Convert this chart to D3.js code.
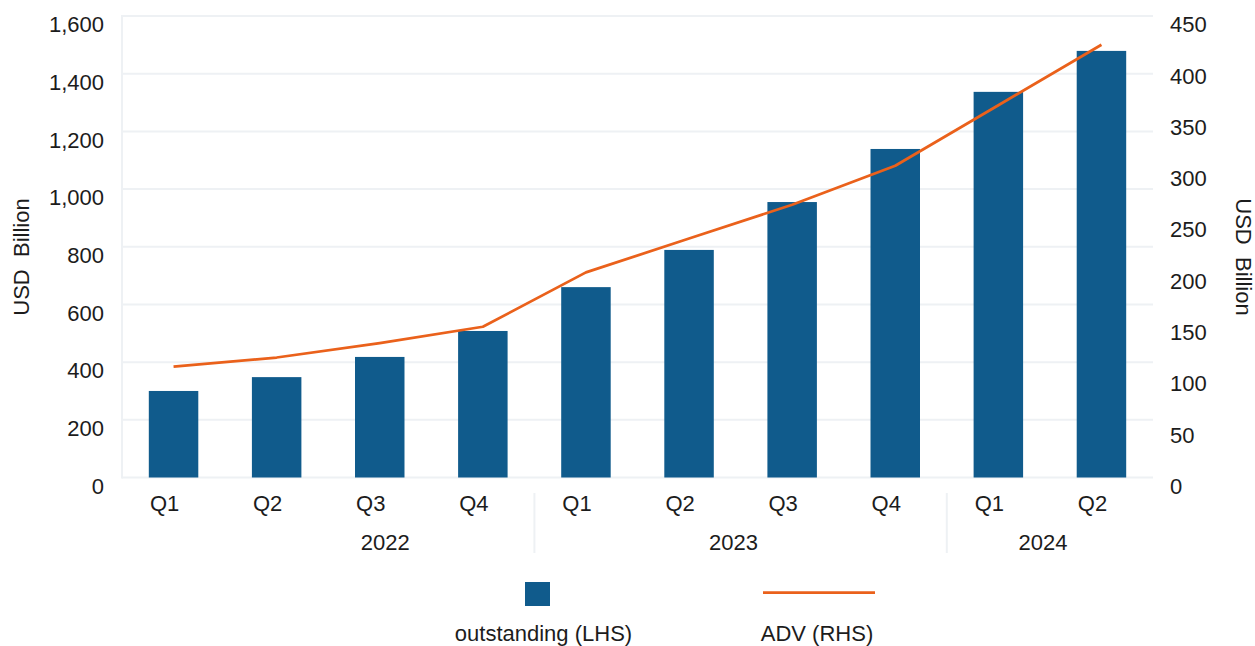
<!DOCTYPE html>
<html>
<head>
<meta charset="utf-8">
<script src="https://cdn.jsdelivr.net/npm/d3@7"></script>
<style>
  body { margin: 0; background: #fff; }
  text { font-family: "Liberation Sans", Arial, Helvetica, sans-serif; fill: #1c1c1c; }
</style>
</head>
<body>
<svg id="chart" width="1255" height="646"></svg>
<script>
// Quarterly outstanding amount (left axis) and average daily volume (right axis), USD billion
const years = ["2022", "2022", "2022", "2022", "2023", "2023", "2023", "2023", "2024", "2024"];
const quarters = ["Q1", "Q2", "Q3", "Q4", "Q1", "Q2", "Q3", "Q4", "Q1", "Q2"];
const outstanding = [300, 348, 418, 508, 660, 789, 955, 1139, 1337, 1479];
const adv = [108, 117, 131, 147, 200, 233, 266, 304, 363, 422];
const leftTicks = [0, 200, 400, 600, 800, 1000, 1200, 1400, 1600];
const rightTicks = [0, 50, 100, 150, 200, 250, 300, 350, 400, 450];
const seriesNames = ["outstanding (LHS)", "ADV (RHS)"];
const axisTitle = "USD  Billion";

const barColor = "#105B8C";
const lineColor = "#EA611B";
const gridColor = "#EEF1F4";
const fontSize = 22;

const svg = d3.select("#chart");
const plot = { left: 122, right: 1153, top: 16, bottom: 477.5 };

const idx = d3.range(quarters.length);
const x = d3.scaleBand().domain(idx).range([plot.left, plot.right])
  .paddingInner(0.52).paddingOuter(0.26);
const yL = d3.scaleLinear().domain([0, 1600]).range([plot.bottom, plot.top]);
const yR = d3.scaleLinear().domain([0, 450]).range([plot.bottom, plot.top]);
const cx = i => x(i) + x.bandwidth() / 2;

// grid
svg.append("g").selectAll("line").data(leftTicks).join("line")
  .attr("x1", plot.left).attr("x2", plot.right)
  .attr("y1", d => yL(d)).attr("y2", d => yL(d))
  .attr("stroke", gridColor).attr("stroke-width", 2);
svg.append("line")
  .attr("x1", plot.left).attr("x2", plot.left)
  .attr("y1", plot.top - 1).attr("y2", plot.bottom + 1)
  .attr("stroke", gridColor).attr("stroke-width", 2);

// left axis
const gL = svg.append("g").attr("transform", `translate(${plot.left},0)`)
  .call(d3.axisLeft(yL).tickValues(leftTicks).tickSize(0).tickPadding(18).tickFormat(d3.format(",")));
gL.select(".domain").remove();
gL.selectAll("text").attr("dy", "0.72em").style("font-size", fontSize + "px").attr("fill", "#1c1c1c");

// right axis
const gR = svg.append("g").attr("transform", `translate(${plot.right},0)`)
  .call(d3.axisRight(yR).tickValues(rightTicks).tickSize(0).tickPadding(17));
gR.select(".domain").remove();
gR.selectAll("text").attr("dy", "0.72em").style("font-size", fontSize + "px").attr("fill", "#1c1c1c");

// axis titles
svg.append("text")
  .attr("transform", "translate(29,257) rotate(-90)")
  .attr("text-anchor", "middle").style("font-size", fontSize + "px")
  .style("white-space", "pre").text(axisTitle);
svg.append("text")
  .attr("transform", "translate(1236,257) rotate(90)")
  .attr("text-anchor", "middle").style("font-size", fontSize + "px")
  .style("white-space", "pre").text(axisTitle);

// bars
svg.append("g").selectAll("rect").data(idx).join("rect")
  .attr("x", i => x(i)).attr("width", x.bandwidth())
  .attr("y", i => yL(outstanding[i]))
  .attr("height", i => yL(0) - yL(outstanding[i]))
  .attr("fill", barColor);

// line
svg.append("path").datum(idx)
  .attr("d", d3.line().x(i => cx(i)).y(i => yR(adv[i])))
  .attr("fill", "none").attr("stroke", lineColor)
  .attr("stroke-width", 2.75).attr("stroke-linejoin", "round");

// quarter labels (sit slightly left of the bar centres)
const gX = svg.append("g").attr("transform", `translate(0,${plot.bottom})`)
  .call(d3.axisBottom(x).tickSize(0).tickPadding(18).tickFormat(i => quarters[i]));
gX.select(".domain").remove();
gX.selectAll("text").attr("dx", -9).style("font-size", fontSize + "px").attr("fill", "#1c1c1c");

// year groups: separators and labels
const groups = d3.groups(idx, i => years[i]);
const yearNudge = { "2022": 57, "2023": -7, "2024": -7 };
groups.forEach(([yr, members], gi) => {
  const first = members[0], last = members[members.length - 1];
  const x0 = x(first) - x.step() * x.paddingInner() / 2;
  const x1 = x(last) + x.bandwidth() + x.step() * x.paddingInner() / 2;
  svg.append("text")
    .attr("x", (x0 + x1) / 2 + yearNudge[yr]).attr("y", 550)
    .attr("text-anchor", "middle").style("font-size", fontSize + "px")
    .text(yr);
  if (gi > 0) {
    svg.append("line")
      .attr("x1", x0).attr("x2", x0).attr("y1", 493).attr("y2", 553)
      .attr("stroke", gridColor).attr("stroke-width", 2);
  }
});

// legend
const legend = svg.append("g");
legend.append("rect").attr("x", 525).attr("y", 582).attr("width", 25).attr("height", 24).attr("fill", barColor);
legend.append("text").attr("x", 543.5).attr("y", 641).attr("text-anchor", "middle")
  .style("font-size", fontSize + "px").text(seriesNames[0]);
legend.append("line").attr("x1", 763).attr("x2", 875).attr("y1", 592.7).attr("y2", 592.7)
  .attr("stroke", lineColor).attr("stroke-width", 2.75);
legend.append("text").attr("x", 817).attr("y", 641).attr("text-anchor", "middle")
  .style("font-size", fontSize + "px").text(seriesNames[1]);
</script>
</body>
</html>
